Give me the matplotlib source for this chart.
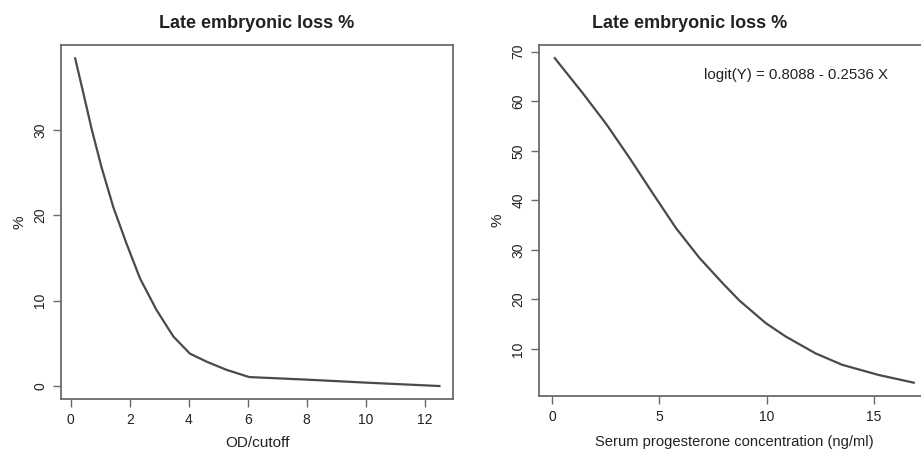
import matplotlib
matplotlib.use("Agg")
import matplotlib.pyplot as plt

plt.rcParams['font.family'] = ['Liberation Sans', 'DejaVu Sans']

title = "Late embryonic loss %"

od_x = [0.15, 0.43, 0.71, 1.04, 1.44, 1.89, 2.35, 2.91, 3.48, 4.04, 4.61, 5.28, 6.05, 8.0, 10.0, 12.5]
od_y = [38.4, 34.3, 30.1, 25.7, 21.0, 16.7, 12.6, 8.9, 5.8, 3.8, 2.85, 1.9, 1.05, 0.75, 0.4, 0.0]

p4_x = [0.13, 1.44, 2.53, 3.61, 4.70, 5.78, 6.87, 7.95, 8.73, 9.97, 10.90, 12.29, 13.53, 15.23, 16.86]
p4_y = [68.7, 61.6, 55.4, 48.6, 41.4, 34.4, 28.4, 23.3, 19.8, 15.2, 12.5, 9.1, 6.8, 4.75, 3.2]

left_xticks = [0, 2, 4, 6, 8, 10, 12]
left_yticks = [0, 10, 20, 30]
right_xticks = [0, 5, 10, 15]
right_yticks = [10, 20, 30, 40, 50, 60, 70]
annotation = "logit(Y) = 0.8088 - 0.2536 X"

fig = plt.figure(figsize=(9.21, 4.5), dpi=100)
ax1 = fig.add_axes([61/921, 1-399/450, (453-61)/921, (399-45)/450])
ax2 = fig.add_axes([539.3/921, 1-396/450, (921-539.3)/921 + 0.01, (396-45)/450])

line_color = '#4a4a4a'
spine_color = '#6a6a6a'
text_color = '#222222'

def style(ax):
    for s in ax.spines.values():
        s.set_color(spine_color)
        s.set_linewidth(1.3)
    ax.tick_params(direction='out', length=6, width=1.0, color=spine_color,
                   labelsize=10, labelcolor=text_color, pad=4)
    for lab in ax.get_yticklabels():
        lab.set_rotation(90)
        lab.set_va('center')

ax1.plot(od_x, od_y, color=line_color, lw=1.6)
ax1.set_xlim(-0.33, 12.96)
ax1.set_ylim(-1.52, 39.97)
ax1.set_xticks(left_xticks)
ax1.set_yticks(left_yticks)
ax1.set_title(title, fontsize=13, fontweight='bold', pad=12, color=text_color)
ax1.set_xlabel("OD/cutoff", fontsize=11, color=text_color, labelpad=6.5)
ax1.set_ylabel("%", fontsize=11, color=text_color, labelpad=5)
style(ax1)

ax2.plot(p4_x, p4_y, color=line_color, lw=1.6)
ax2.set_xlim(-0.59, 17.2 + 0.01 * 921 / 21.51)
ax2.set_ylim(0.51, 71.35)
ax2.set_xticks(right_xticks)
ax2.set_yticks(right_yticks)
ax2.set_title(title, fontsize=13, fontweight='bold', pad=12, color=text_color,
              x=(690 - 539.3) / ((921 - 539.3) + 9.21))
ax2.set_xlabel("Serum progesterone concentration (ng/ml)", fontsize=10.6,
               color=text_color, labelpad=8)
ax2.set_ylabel("%", fontsize=11, color=text_color, labelpad=5)
ax2.text(11.38, 65.3, annotation, fontsize=10.8, color=text_color,
         ha='center', va='center')
style(ax2)

fig.savefig("out.png", dpi=100, facecolor='white')
